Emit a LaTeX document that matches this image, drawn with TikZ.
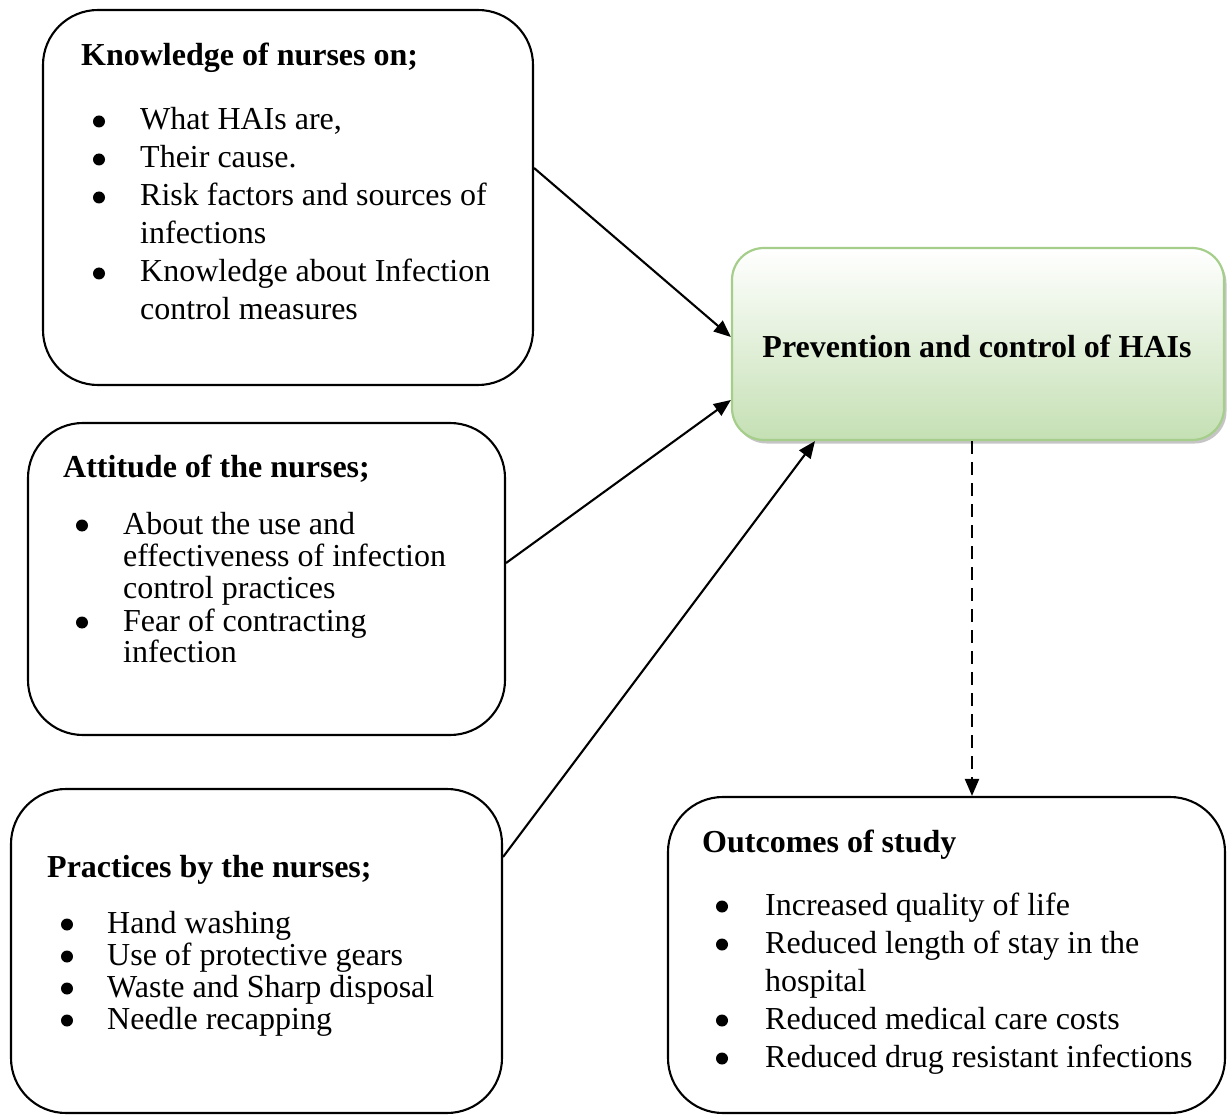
\documentclass[tikz,border=0pt]{standalone}
\usepackage{fontspec}
\setmainfont{Liberation Serif}
\usetikzlibrary{arrows.meta,shadows}
\definecolor{gbot}{RGB}{197,224,180}
\definecolor{gbord}{RGB}{165,206,138}
\newcommand\bul[3]{\node[dot] (#1) at (#2,#3-8.5) {};}
\begin{document}
\begin{tikzpicture}[x=1pt,y=-1pt,
  box/.style={draw,line width=2.1pt,rounded corners=55pt,inner sep=0pt},
  txt/.style={anchor=base west,inner sep=0pt,font=\fontsize{32}{38}\selectfont},
  ttl/.style={anchor=base west,inner sep=0pt,font=\fontsize{32}{38}\selectfont\bfseries},
  dot/.style={circle,fill,inner sep=0pt,minimum size=12pt},
  arr/.style={line width=2.1pt,-{Triangle[length=17pt,width=14pt]}}]
\useasboundingbox (0,0) rectangle (1227,1115);

% boxes
\node[box,minimum width=490pt,minimum height=375pt] (know) at (288,197.5) {};
\node[box,minimum width=477pt,minimum height=312pt] (att) at (266.5,579) {};
\node[box,minimum width=491pt,minimum height=324pt] (prac) at (256.5,951) {};
\node[box,minimum width=557pt,minimum height=316pt] (out) at (946.5,955) {};
\node[draw=gbord,line width=2.2pt,rounded corners=32pt,top color=white,bottom color=gbot,
      drop shadow={shadow xshift=2.5pt,shadow yshift=-3.5pt,fill=black!45},
      minimum width=492pt,minimum height=192pt,inner sep=0pt] (prev) at (978,344) {};
\node[anchor=base,inner sep=0pt,font=\fontsize{32}{38}\selectfont\bfseries] (prevt) at (977,358) {Prevention and control of HAIs};

% Knowledge
\node[ttl] (kt) at (81,66) {Knowledge of nurses on;};
\bul{kb1}{99}{130}\node[txt] (k1) at (140,130) {What HAIs are,};
\bul{kb2}{99}{168}\node[txt] (k2) at (140,168) {Their cause.};
\bul{kb3}{99}{206}\node[txt] (k3) at (140,206) {Risk factors and sources of};
\node[txt] (k4) at (140,244) {infections};
\bul{kb5}{99}{282}\node[txt] (k5) at (140,282) {Knowledge about Infection};
\node[txt] (k6) at (140,320) {control measures};

% Attitude
\node[ttl] (at) at (63,477) {Attitude of the nurses;};
\bul{ab1}{82}{534}\node[txt] (a1) at (123,534) {About the use and};
\node[txt] (a2) at (123,566) {effectiveness of infection};
\node[txt] (a3) at (123,598) {control practices};
\bul{ab4}{82}{631}\node[txt] (a4) at (123,631) {Fear of contracting};
\node[txt] (a5) at (123,662) {infection};

% Practices
\node[ttl] (pt) at (47,877) {Practices by the nurses;};
\bul{pb1}{67}{933}\node[txt] (p1) at (107,933) {Hand washing};
\bul{pb2}{67}{965}\node[txt] (p2) at (107,965) {Use of protective gears};
\bul{pb3}{67}{997}\node[txt] (p3) at (107,997) {Waste and Sharp disposal};
\bul{pb4}{67}{1029}\node[txt] (p4) at (107,1029) {Needle recapping};

% Outcomes
\node[ttl] (ot) at (702,852) {Outcomes of study};
\bul{ob1}{722}{915}\node[txt] (o1) at (765,915) {Increased quality of life};
\bul{ob2}{722}{953}\node[txt] (o2) at (765,953) {Reduced length of stay in the};
\node[txt] (o3) at (765,991) {hospital};
\bul{ob4}{722}{1029}\node[txt] (o4) at (765,1029) {Reduced medical care costs};
\bul{ob5}{722}{1067}\node[txt] (o5) at (765,1067) {Reduced drug resistant infections};

% connectors
\draw[arr] ([yshift=29.5pt]know.east) -- ([yshift=7pt]prev.west);
\draw[arr] ([yshift=16pt]att.east) -- ([yshift=-56pt]prev.west);
\draw[arr] ([yshift=94pt]prac.east) -- ([xshift=-163pt]prev.south);
\draw[arr,dash pattern=on 13pt off 8pt] ([xshift=-6pt]prev.south) -- ([xshift=25.5pt]out.north);
\end{tikzpicture}
\end{document}
